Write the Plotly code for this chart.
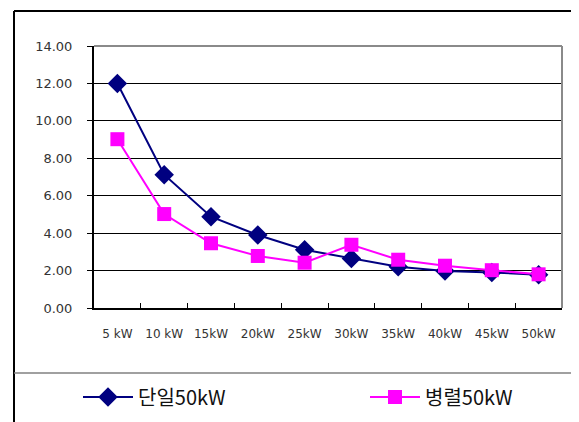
import plotly.graph_objects as go

categories = ["5 kW", "10 kW", "15kW", "20kW", "25kW", "30kW", "35kW", "40kW", "45kW", "50kW"]
single_50kw = [12.0, 7.12, 4.88, 3.90, 3.11, 2.64, 2.20, 1.98, 1.90, 1.78]
parallel_50kw = [9.02, 5.02, 3.46, 2.78, 2.42, 3.38, 2.58, 2.26, 2.02, 1.80]
y_ticks = [0, 2, 4, 6, 8, 10, 12, 14]
y_tick_labels = ["0.00", "2.00", "4.00", "6.00", "8.00", "10.00", "12.00", "14.00"]
series_names = ["단일50kW", "병렬50kW"]

W, H = 579, 422
OFF = 8  # page offset of the figure inside the browser window
L, T = 94 - OFF, 46 - OFF
pw, ph = 468, 262
R, B = W - L - pw, H - T - ph

def px(xs):
    """screen x (px) -> paper x"""
    return (xs - OFF - L) / pw

def py(ys):
    """screen y (px) -> paper y"""
    return (T + ph - (ys - OFF)) / ph

fig = go.Figure()
fig.add_trace(go.Scatter(
    x=categories, y=single_50kw, name=series_names[0], mode="lines+markers",
    line=dict(color="#000080", width=2),
    marker=dict(symbol="diamond", size=15, color="#000080"),
    legend="legend",
))
fig.add_trace(go.Scatter(
    x=categories, y=parallel_50kw, name=series_names[1], mode="lines+markers",
    line=dict(color="#FF00FF", width=2),
    marker=dict(symbol="square", size=14, color="#FF00FF"),
    legend="legend2",
))

shapes = [
    # outer frame
    dict(type="line", xref="paper", yref="paper", x0=px(14), x1=px(14), y0=py(11), y1=py(440),
         line=dict(color="#000000", width=2)),
    dict(type="line", xref="paper", yref="paper", x0=px(14), x1=px(620), y0=py(11), y1=py(11),
         line=dict(color="#000000", width=2)),
    # separator above legend
    dict(type="line", xref="paper", yref="paper", x0=px(14), x1=px(620), y0=py(373), y1=py(373),
         line=dict(color="#808080", width=1.5)),
    # plot area top & right borders
    dict(type="line", xref="paper", yref="paper", x0=0, x1=1, y0=1, y1=1,
         line=dict(color="#8a8a8a", width=2), layer="above"),
    dict(type="line", xref="paper", yref="paper", x0=1, x1=1, y0=0, y1=1,
         line=dict(color="#8a8a8a", width=2), layer="above"),
]

legend_common = dict(
    orientation="h", yanchor="middle", xanchor="left",
    font=dict(family="Noto Sans CJK KR", size=20, color="#111111"),
    bgcolor="rgba(0,0,0,0)", itemwidth=50,
)

fig.update_layout(
    width=W, height=H,
    margin=dict(l=L, r=R, t=T, b=B, autoexpand=False),
    paper_bgcolor="white", plot_bgcolor="white",
    font=dict(family="DejaVu Sans", color="#333333"),
    shapes=shapes,
    showlegend=True,
    legend=dict(x=px(78), y=py(397), **legend_common),
    legend2=dict(x=px(365), y=py(397), **legend_common),
    xaxis=dict(
        type="category", tickson="boundaries", ticks="inside", ticklen=5,
        tickcolor="#000000", tickwidth=1, tickangle=0,
        showline=True, linecolor="#000000", linewidth=2,
        showgrid=False, zeroline=False, automargin=False,
        tickfont=dict(family="DejaVu Sans", size=12, color="#333333"),
        ticklabelstandoff=14,
        range=[-0.5, 9.5],
    ),
    yaxis=dict(
        range=[0, 14], tickvals=y_ticks, ticktext=y_tick_labels,
        ticks="outside", ticklen=5, tickcolor="#000000",
        showline=True, linecolor="#000000", linewidth=2,
        showgrid=True, gridcolor="#000000", gridwidth=1,
        zeroline=False, automargin=False,
        tickfont=dict(family="DejaVu Sans", size=13, color="#333333"),
        ticklabelstandoff=12,
    ),
)

fig.write_html("out.html")
